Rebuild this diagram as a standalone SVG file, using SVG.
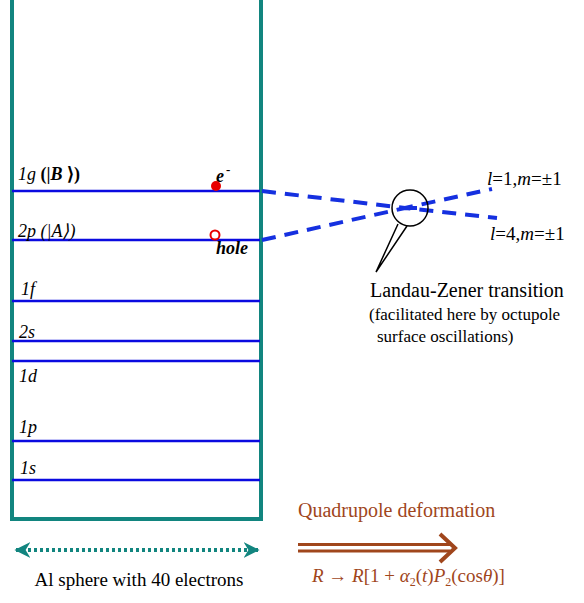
<svg xmlns="http://www.w3.org/2000/svg" width="584" height="603" viewBox="0 0 584 603">
<defs>
<style>
.lvl{stroke:#0a0ae0;stroke-width:2.5}
.dash{stroke:#1530e0;stroke-width:4;stroke-dasharray:14 9;fill:none}
</style>
<marker id="tealhead" viewBox="0 0 10 10" refX="9" refY="5" markerWidth="4" markerHeight="4" orient="auto-start-reverse">
<path d="M0,0 L10,5 L0,10 L3,5 Z" fill="#12857f"/>
</marker>
</defs>
<g id="sphere">
<path d="M12,0 V519 H261 V0" stroke="#12857f" stroke-width="4" fill="none"/>
</g>
<g id="levels">
<line class="lvl" x1="12" y1="191" x2="260" y2="191"/>
<line class="lvl" x1="12" y1="240" x2="260" y2="240"/>
<line class="lvl" x1="12" y1="301" x2="260" y2="301"/>
<line class="lvl" x1="12" y1="341" x2="260" y2="341"/>
<line class="lvl" x1="12" y1="361" x2="260" y2="361"/>
<line class="lvl" x1="12" y1="441" x2="260" y2="441"/>
<line class="lvl" x1="12" y1="480" x2="260" y2="480"/>
</g>
<g id="level-labels" font-family="Liberation Serif, serif" font-style="italic" font-size="18" fill="#000">
<text x="18" y="180">1g <tspan font-weight="bold" font-style="normal">(|<tspan font-style="italic">B</tspan> ⟩)</tspan></text>
<text x="18" y="237">2p (|A⟩)</text>
<text x="21" y="295">1f</text>
<text x="19" y="338">2s</text>
<text x="19" y="382">1d</text>
<text x="19" y="433">1p</text>
<text x="20" y="474">1s</text>
</g>
<g id="electron">
<circle cx="216" cy="186" r="5" fill="#e80000"/>
<text font-family="Liberation Serif, serif" font-style="italic" font-weight="bold" font-size="18" x="216" y="182">e</text>
<text font-family="Liberation Serif, serif" font-weight="bold" font-size="13" x="226" y="174">-</text>
</g>
<g id="hole">
<circle cx="215" cy="235" r="4.5" fill="#fff" stroke="#e80000" stroke-width="2"/>
<text font-family="Liberation Serif, serif" font-style="italic" font-weight="bold" font-size="18" x="216" y="254">hole</text>
</g>
<g id="connectors">
<path class="dash" d="M262,191 L405,208 L492,189"/>
<path class="dash" d="M262,240 L405,208 L497,218"/>
</g>
<g id="landau-zener">
<path d="M398,224 L376,272 L407,226" fill="none" stroke="#000" stroke-width="1.5"/>
<circle cx="410" cy="208" r="18" fill="none" stroke="#000" stroke-width="1.5"/>
<line x1="401" y1="208" x2="417" y2="208" stroke="#1530e0" stroke-width="4"/>
<text font-family="Liberation Serif, serif" x="370" y="297" font-size="20">Landau-Zener transition</text>
<text font-family="Liberation Serif, serif" x="369" y="320" font-size="17">(facilitated here by octupole</text>
<text font-family="Liberation Serif, serif" x="377" y="342" font-size="17">surface oscillations)</text>
</g>
<g id="states" font-family="Liberation Serif, serif" font-size="19">
<text x="487" y="185"><tspan font-style="italic">l</tspan>=1,<tspan font-style="italic">m</tspan>=±1</text>
<text x="490" y="240"><tspan font-style="italic">l</tspan>=4,<tspan font-style="italic">m</tspan>=±1</text>
</g>
<g id="sphere-size">
<line x1="16" y1="550" x2="258" y2="550" stroke="#12857f" stroke-width="4" stroke-dasharray="3 3" marker-start="url(#tealhead)" marker-end="url(#tealhead)"/>
<text font-family="Liberation Serif, serif" font-size="19" x="139" y="586" text-anchor="middle">Al sphere with 40 electrons</text>
</g>
<g id="quadrupole" fill="#a0461c" font-family="Liberation Serif, serif">
<text x="298" y="517" font-size="20">Quadrupole deformation</text>
<line x1="298" y1="544.5" x2="450" y2="544.5" stroke="#a0461c" stroke-width="3"/>
<line x1="298" y1="551" x2="450" y2="551" stroke="#a0461c" stroke-width="3"/>
<path d="M440,534 L455,548 L440,562" fill="none" stroke="#a0461c" stroke-width="4"/>
<text x="312" y="582" font-size="19"><tspan font-style="italic">R</tspan> → <tspan font-style="italic">R</tspan>[1 + <tspan font-style="italic">α</tspan><tspan font-size="12" dy="4">2</tspan><tspan dy="-4">(</tspan><tspan font-style="italic">t</tspan>)<tspan font-style="italic">P</tspan><tspan font-size="12" dy="4">2</tspan><tspan dy="-4">(cos</tspan><tspan font-style="italic">θ</tspan>)]</text>
</g>
</svg>
